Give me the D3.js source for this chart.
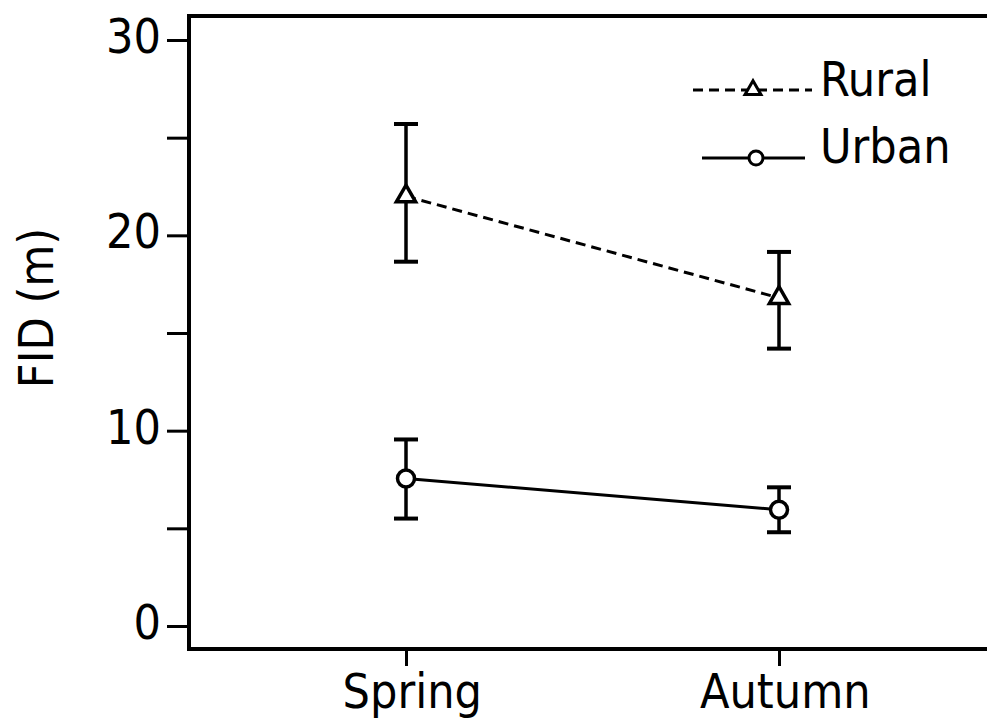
<!DOCTYPE html>
<html>
<head>
<meta charset="utf-8">
<script src="https://cdn.jsdelivr.net/npm/d3@7"></script>
<style>
  html, body { margin: 0; padding: 0; background: #fff; }
  svg { display: block; }
  text { font-family: "DejaVu Sans Condensed", "DejaVu Sans", sans-serif; fill: #000; }
</style>
</head>
<body>
<svg id="chart" width="987" height="726"></svg>
<script>
// ---- data ----
const seasons = ["Spring", "Autumn"];
const ruralMean = [22.0, 16.8];
const ruralUpper = [25.7, 19.15];
const ruralLower = [18.65, 14.2];
const urbanMean = [7.55, 5.95];
const urbanUpper = [9.55, 7.1];
const urbanLower = [5.5, 4.8];
const yTicks = [0, 5, 10, 15, 20, 25, 30];
const yLabelTicks = [0, 10, 20, 30];
const seriesNames = ["Rural", "Urban"];
const yTitle = "FID (m)";

// ---- layout ----
const W = 987, H = 726;
const frameLeft = 189, frameTop = 16, frameBottom = 649;
const svg = d3.select("#chart");

const y = d3.scaleLinear().domain([0, 30]).range([626, 40]);
const x = d3.scalePoint().domain(seasons).range([406, 779]);

const fontSize = 48;

// frame (top, left, bottom lines)
svg.append("path")
  .attr("d", `M${W + 5},${frameTop} H${frameLeft} V${frameBottom} H${W + 5}`)
  .attr("fill", "none").attr("stroke", "#000").attr("stroke-width", 4)
  .attr("stroke-linejoin", "miter");

// y axis
const yAxis = d3.axisLeft(y).tickValues(yTicks).tickSize(22).tickPadding(6)
  .tickFormat(d => yLabelTicks.includes(d) ? d : "");
const gy = svg.append("g").attr("transform", `translate(${frameLeft},0)`).call(yAxis);
gy.select(".domain").remove();
gy.selectAll(".tick line").attr("stroke", "#000").attr("stroke-width", 3);
gy.selectAll(".tick text")
  .attr("font-size", fontSize)
  .attr("font-family", "DejaVu Sans Condensed, DejaVu Sans, sans-serif")
  .attr("dy", "0.26em")
  .attr("fill", "#000");

// x axis
const xAxis = d3.axisBottom(x).tickSize(17).tickPadding(8);
const gx = svg.append("g").attr("transform", `translate(0,${frameBottom})`).call(xAxis);
gx.select(".domain").remove();
gx.selectAll(".tick line").attr("stroke", "#000").attr("stroke-width", 3);
gx.selectAll(".tick text")
  .attr("font-size", fontSize)
  .attr("font-family", "DejaVu Sans Condensed, DejaVu Sans, sans-serif")
  .attr("dx", "0.12em")
  .attr("fill", "#000");

// y title
svg.append("text")
  .attr("transform", `translate(53,${308}) rotate(-90)`)
  .attr("text-anchor", "middle")
  .attr("font-size", fontSize)
  .text(yTitle);

// ---- series ----
const series = [
  { name: seriesNames[0], mean: ruralMean, up: ruralUpper, lo: ruralLower, dash: "10,6", marker: "triangle" },
  { name: seriesNames[1], mean: urbanMean, up: urbanUpper, lo: urbanLower, dash: null, marker: "circle" }
];

const capW = 24;
const triSym = d3.symbol().type(d3.symbolTriangle);

function drawMarker(g, type, cx, cy, big) {
  if (type === "circle") {
    g.append("circle").attr("cx", cx).attr("cy", cy).attr("r", big ? 8.5 : 7)
      .attr("fill", "#fff").attr("stroke", "#000").attr("stroke-width", big ? 3.5 : 3);
  } else {
    g.append("path").attr("d", triSym.size(big ? 160 : 110)())
      .attr("transform", `translate(${cx},${cy})`)
      .attr("fill", "#fff").attr("stroke", "#000").attr("stroke-width", big ? 3.5 : 3);
  }
}

series.forEach(s => {
  const g = svg.append("g");
  // error bars
  seasons.forEach((c, i) => {
    const cx = x(c);
    g.append("line").attr("x1", cx).attr("x2", cx).attr("y1", y(s.up[i])).attr("y2", y(s.lo[i]))
      .attr("stroke", "#000").attr("stroke-width", 3.5);
    [s.up[i], s.lo[i]].forEach(v => {
      g.append("line").attr("x1", cx - capW / 2).attr("x2", cx + capW / 2)
        .attr("y1", y(v)).attr("y2", y(v))
        .attr("stroke", "#000").attr("stroke-width", 4);
    });
  });
  // connecting line
  const line = d3.line().x((d, i) => x(seasons[i])).y(d => y(d));
  g.append("path").attr("d", line(s.mean)).attr("fill", "none")
    .attr("stroke", "#000").attr("stroke-width", 3)
    .attr("stroke-dasharray", s.dash);
  // markers
  seasons.forEach((c, i) => drawMarker(g, s.marker, x(c), y(s.mean[i]), true));
});

// ---- legend ----
const legendItems = [
  { s: series[0], y: 90, x1: 693, x2: 812, mx: 753, ty: 96 },
  { s: series[1], y: 158, x1: 702, x2: 805, mx: 756, ty: 163 }
];
legendItems.forEach(it => {
  const g = svg.append("g");
  g.append("line").attr("x1", it.x1).attr("x2", it.x2).attr("y1", it.y).attr("y2", it.y)
    .attr("stroke", "#000").attr("stroke-width", 3)
    .attr("stroke-dasharray", it.s.dash);
  drawMarker(g, it.s.marker, it.mx, it.y, false);
  g.append("text").attr("x", 820).attr("y", it.ty).attr("font-size", fontSize).text(it.s.name);
});
</script>
</body>
</html>
